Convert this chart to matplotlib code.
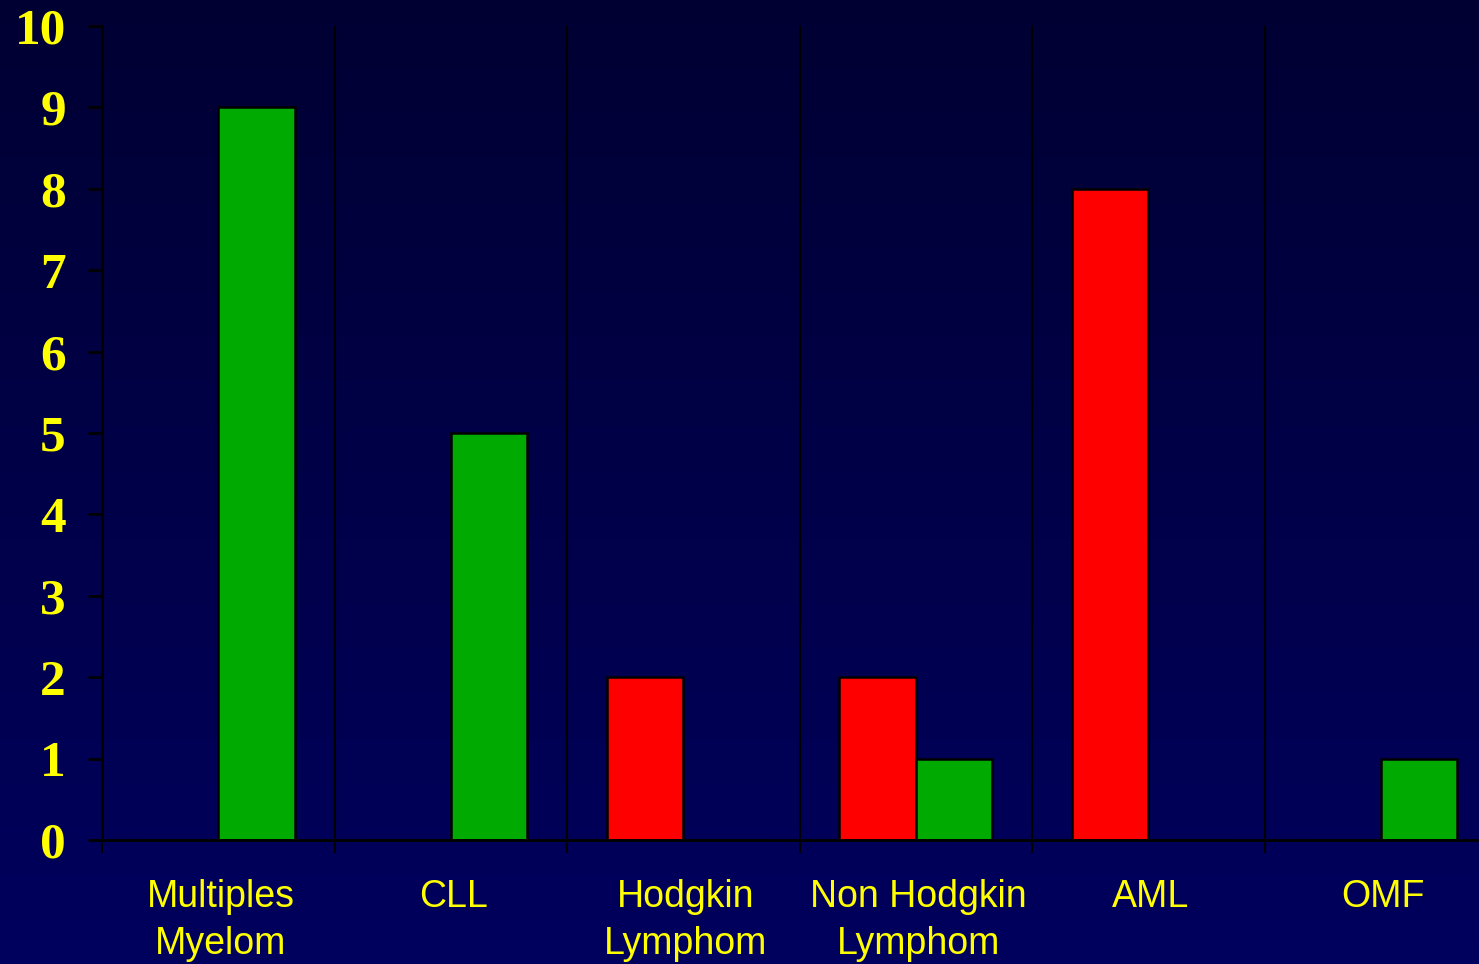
import numpy as np
import matplotlib
matplotlib.use("Agg")
import matplotlib.pyplot as plt
from matplotlib.colors import LinearSegmentedColormap

categories = ["Multiples\nMyelom", "CLL", "Hodgkin\nLymphom", "Non Hodgkin\nLymphom", "AML", "OMF"]
red_values = [0, 0, 2, 2, 8, 0]
green_values = [9, 5, 0, 1, 0, 1]
y_ticks = [0, 1, 2, 3, 4, 5, 6, 7, 8, 9, 10]

fig = plt.figure(figsize=(14.79, 9.64), dpi=100)

# dark navy slide background, a little lighter towards the bottom
bg = fig.add_axes([0, 0, 1, 1], zorder=-10)
grad = np.linspace(0, 1, 256).reshape(-1, 1)
cmap = LinearSegmentedColormap.from_list("navy", ["#000033", "#00005e"])
bg.imshow(grad, aspect="auto", cmap=cmap, extent=[0, 1, 0, 1], origin="upper")
bg.axis("off")

ax = fig.add_axes([102 / 1479, 124 / 964, 1395 / 1479, 814 / 964])
ax.patch.set_alpha(0)

x = np.arange(len(categories))
w = 0.33
ax.bar(x - w / 2, red_values, width=w, color="#ff0000", edgecolor="black", linewidth=1.8)
ax.bar(x + w / 2, green_values, width=w, color="#00aa00", edgecolor="black", linewidth=1.8)

ax.set_xlim(-0.5, len(categories) - 0.5)
ax.set_ylim(0, 10)

# separators between categories
for b in np.arange(0.5, len(categories) - 0.5):
    ax.axvline(b, color="black", lw=1.5, zorder=0)

for s in ["top", "right"]:
    ax.spines[s].set_visible(False)
for s in ["left", "bottom"]:
    ax.spines[s].set_color("black")
    ax.spines[s].set_linewidth(2)

ax.set_yticks(y_ticks)
ax.set_yticklabels([str(v) for v in y_ticks], fontfamily="Liberation Serif",
                   fontweight="bold", fontsize=37, color="#ffff00")
ax.tick_params(axis="y", length=10, width=2, color="black", pad=16)

ax.set_xticks(np.arange(-0.5, len(categories)))
ax.set_xticklabels([])
ax.tick_params(axis="x", which="major", length=9, width=1.5, color="black")
ax.set_xticks(x + 0.01, minor=True)
ax.set_xticklabels(categories, minor=True, fontfamily="Liberation Sans",
                   fontsize=27, color="#ffff00", linespacing=1.4)
ax.tick_params(axis="x", which="minor", length=0, pad=28)

fig.savefig("out.png", dpi=100)
